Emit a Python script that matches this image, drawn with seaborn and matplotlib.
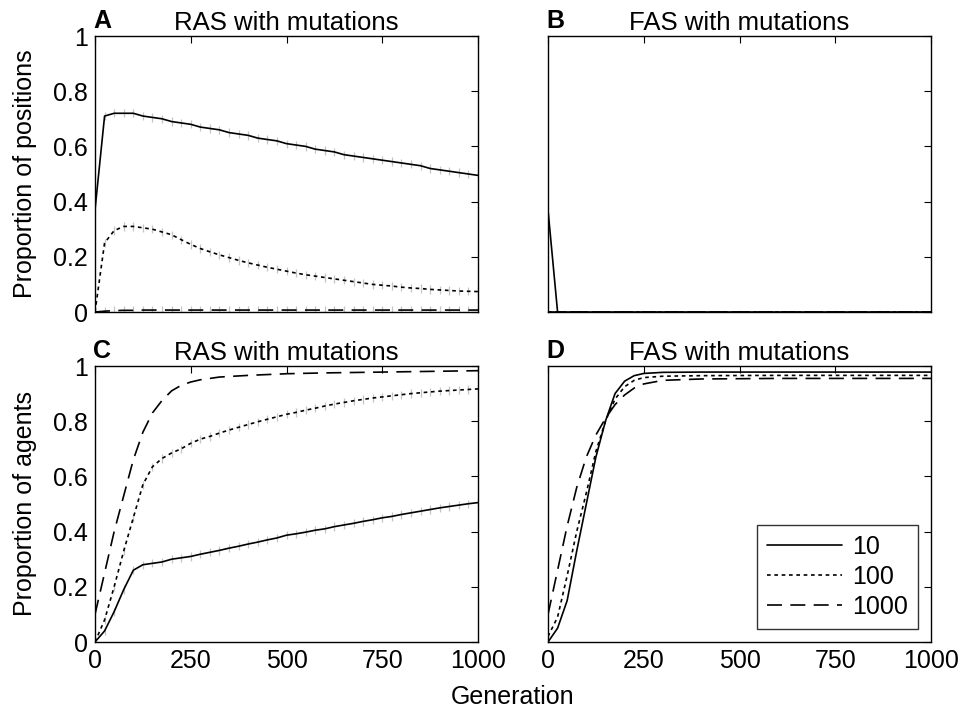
import numpy as np
import pandas as pd
import matplotlib
matplotlib.use("Agg")
import matplotlib.pyplot as plt
import seaborn as sns

sns.set_style("white")
plt.rcParams['font.family'] = ['Liberation Sans', 'DejaVu Sans']
for k in ["text.color", "axes.labelcolor", "xtick.color", "ytick.color", "axes.edgecolor"]:
    plt.rcParams[k] = "black"

# ---------------- data ----------------
gen25 = list(range(0, 1001, 25))

A_10 = [0.37, 0.71, 0.72, 0.72, 0.72, 0.71, 0.705, 0.70, 0.69, 0.685, 0.68,
        0.67, 0.665, 0.66, 0.65, 0.645, 0.64, 0.63, 0.625, 0.62, 0.61,
        0.605, 0.60, 0.59, 0.585, 0.58, 0.57, 0.565, 0.56, 0.555, 0.55,
        0.545, 0.54, 0.535, 0.53, 0.52, 0.515, 0.51, 0.505, 0.50, 0.495]
A_100 = [0.0, 0.25, 0.295, 0.31, 0.31, 0.305, 0.30, 0.29, 0.28, 0.262, 0.245,
         0.23, 0.218, 0.207, 0.197, 0.187, 0.178, 0.17, 0.162, 0.155, 0.148,
         0.141, 0.135, 0.13, 0.125, 0.12, 0.115, 0.11, 0.105, 0.10, 0.097,
         0.094, 0.09, 0.087, 0.085, 0.082, 0.08, 0.078, 0.076, 0.075, 0.074]
A_1000 = [0.0, 0.003, 0.005, 0.006, 0.006, 0.007, 0.007, 0.007, 0.007, 0.007, 0.007,
          0.007, 0.007, 0.007, 0.007, 0.007, 0.007, 0.007, 0.007, 0.007, 0.007,
          0.007, 0.007, 0.007, 0.007, 0.007, 0.007, 0.007, 0.007, 0.007, 0.007,
          0.007, 0.007, 0.007, 0.007, 0.007, 0.007, 0.007, 0.007, 0.007, 0.007]

B_gen = [0, 25, 1000]
B_10 = [0.37, 0.0, 0.0]
B_100 = [0.0, 0.0, 0.0]
B_1000 = [0.0, 0.0, 0.0]

C_10 = [0.0, 0.04, 0.11, 0.19, 0.26, 0.28, 0.285, 0.29, 0.30, 0.305, 0.31,
        0.318, 0.325, 0.332, 0.34, 0.347, 0.355, 0.362, 0.37, 0.377, 0.387,
        0.392, 0.398, 0.405, 0.41, 0.418, 0.424, 0.43, 0.437, 0.443, 0.45,
        0.455, 0.462, 0.468, 0.474, 0.48, 0.486, 0.491, 0.496, 0.501, 0.505]
C_100 = [0.0, 0.08, 0.2, 0.33, 0.45, 0.57, 0.635, 0.665, 0.685, 0.70, 0.72,
         0.735, 0.745, 0.757, 0.768, 0.778, 0.788, 0.798, 0.807, 0.816, 0.825,
         0.832, 0.84, 0.847, 0.855, 0.862, 0.868, 0.874, 0.879, 0.884, 0.888,
         0.892, 0.896, 0.90, 0.903, 0.906, 0.909, 0.911, 0.913, 0.915, 0.917]
C_gen_1000 = [0, 25, 50, 75, 100, 125, 150, 175, 200, 225, 250, 275, 300, 325,
              350, 400, 500, 600, 700, 800, 900, 1000]
C_1000 = [0.1, 0.25, 0.4, 0.53, 0.66, 0.76, 0.83, 0.875, 0.91, 0.93, 0.942,
          0.95, 0.955, 0.96, 0.962, 0.966, 0.972, 0.975, 0.977, 0.979, 0.981, 0.983]

D_gen = [0, 25, 50, 75, 100, 125, 150, 175, 200, 225, 250, 300, 400, 600, 800, 1000]
D_10 = [0.0, 0.05, 0.15, 0.33, 0.5, 0.67, 0.8, 0.9, 0.945, 0.965, 0.973,
        0.977, 0.978, 0.978, 0.978, 0.978]
D_100 = [0.02, 0.09, 0.24, 0.4, 0.54, 0.69, 0.8, 0.88, 0.925, 0.948, 0.958,
         0.963, 0.965, 0.966, 0.966, 0.966]
D_1000 = [0.1, 0.26, 0.42, 0.56, 0.67, 0.75, 0.81, 0.86, 0.895, 0.92, 0.935,
          0.948, 0.953, 0.955, 0.955, 0.955]

err_half = 0.015

labels = ["10", "100", "1000"]
titles = ["RAS with mutations", "FAS with mutations", "RAS with mutations", "FAS with mutations"]
letters = ["A", "B", "C", "D"]
xticks = [0, 250, 500, 750, 1000]
yticks = [0, 0.2, 0.4, 0.6, 0.8, 1.0]
ytick_labels = ["0", "0.2", "0.4", "0.6", "0.8", "1"]

styles = ["-", (0, (2.2, 2.2)), (0, (9, 5))]
FS = 18

# ---------------- figure ----------------
fig = plt.figure(figsize=(9.62, 7.13), dpi=100)
W, H = 962, 713
def ax_at(l, t, r, b):
    return fig.add_axes([l / W, 1 - b / H, (r - l) / W, (b - t) / H])

axA = ax_at(95, 36, 478, 312)
axB = ax_at(548, 36, 931, 312)
axC = ax_at(95, 366, 478, 642)
axD = ax_at(548, 366, 931, 642)

panels = [
    (axA, [(gen25, A_10), (gen25, A_100), (gen25, A_1000)], True),
    (axB, [(B_gen, B_10), (B_gen, B_100), (B_gen, B_1000)], False),
    (axC, [(gen25, C_10), (gen25, C_100), (C_gen_1000, C_1000)], True),
    (axD, [(D_gen, D_10), (D_gen, D_100), (D_gen, D_1000)], False),
]

for i, (ax, series, with_err) in enumerate(panels):
    handles = []
    for j, (xs, ys) in enumerate(series):
        if with_err and len(xs) == len(gen25):
            ax.errorbar(xs, ys, yerr=err_half, fmt='none', ecolor='#c4c4c4',
                        elinewidth=0.9, capsize=0, zorder=1)
        df = pd.DataFrame({"Generation": xs, "Proportion": ys})
        sns.lineplot(data=df, x="Generation", y="Proportion", ax=ax,
                     color="black", linewidth=1.2, zorder=3)
        line = ax.get_lines()[-1]
        line.set_linestyle(styles[j])
        handles.append(line)

    ax.set_xlim(0, 1000)
    ax.set_ylim(0, 1)
    ax.set_xticks(xticks)
    ax.set_yticks(yticks)
    ax.set_xlabel("")
    ax.set_ylabel("")
    ax.tick_params(direction="in", length=5, width=0.8, top=True, right=True,
                   labelsize=FS, colors="black", pad=5)
    for sp in ax.spines.values():
        sp.set_visible(True)
        sp.set_color("black")
        sp.set_linewidth(1.0)
    if i in (0, 2):
        ax.set_yticklabels(ytick_labels)
    else:
        ax.set_yticklabels([])
    if i in (0, 1):
        ax.set_xticklabels([])
    else:
        ax.set_xticklabels([str(t) for t in xticks])
    ax.set_title(titles[i], fontsize=18.5, pad=4)
    ax.text(-0.005, 1.012, letters[i], transform=ax.transAxes, fontsize=FS,
            fontweight="bold", ha="left", va="bottom")

    if i == 3:
        leg = ax.legend(handles, labels, loc="lower right", fontsize=FS,
                        handlelength=3.0, frameon=True, fancybox=False,
                        edgecolor="black", borderpad=0.4, labelspacing=0.25,
                        handletextpad=0.4, borderaxespad=0.0,
                        bbox_to_anchor=(0.965, 0.047))
        leg.get_frame().set_linewidth(1.0)
        leg._legend_box.align = "left"

axA.set_ylabel("Proportion of positions", fontsize=FS, labelpad=12)
axC.set_ylabel("Proportion of agents", fontsize=FS, labelpad=12)
fig.text(513 / W, 1 - 697 / H, "Generation", ha="center", va="center", fontsize=FS)

fig.savefig("out.png", dpi=100, facecolor="white")
